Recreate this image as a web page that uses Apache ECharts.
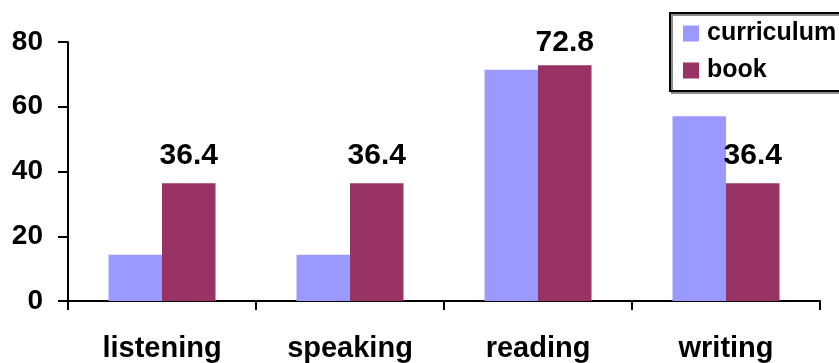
<!DOCTYPE html>
<html>
<head>
<meta charset="utf-8">
<script src="https://cdn.jsdelivr.net/npm/echarts@6/dist/echarts.min.js"></script>
<style>
  html, body { margin: 0; padding: 0; background: #ffffff; }
  #chart { width: 839px; height: 363px; }
</style>
</head>
<body>
<div id="chart"></div>
<script>
// Skills covered: curriculum vs. book (percent)
const categories = ['listening', 'speaking', 'reading', 'writing'];
const curriculum = [14.3, 14.3, 71.4, 57.1];
const book = [36.4, 36.4, 72.8, 36.4];
const yTicks = [0, 20, 40, 60, 80];

const FONT = '"Liberation Sans", Arial, Helvetica, sans-serif';
// gap between each book bar and its value label
const labelGap = [12, 12, 8, 12];

const chart = echarts.init(document.getElementById('chart'), null, { renderer: 'canvas' });

chart.setOption({
  animation: false,
  backgroundColor: '#ffffff',
  grid: { left: 68, right: 19, top: 42, bottom: 61.5, containLabel: false },
  legend: {
    orient: 'vertical',
    left: 670,
    top: 13,
    padding: [8, 60, 8, 13],
    itemGap: 12,
    itemWidth: 16,
    itemHeight: 16,
    borderColor: '#000000',
    borderWidth: 2,
    backgroundColor: '#ffffff',
    shadowColor: '#8c8c8c',
    shadowOffsetX: 2,
    shadowOffsetY: 2,
    shadowBlur: 0,
    icon: 'rect',
    textStyle: {
      fontFamily: FONT, fontWeight: 'bold', fontSize: 25, color: '#000000',
      lineHeight: 16, padding: [0, 0, 0, 3]
    },
    data: ['curriculum', 'book']
  },
  xAxis: {
    type: 'category',
    data: categories,
    axisLine: { lineStyle: { color: '#000000', width: 2 } },
    axisTick: { show: true, length: 9, lineStyle: { color: '#000000', width: 2 } },
    axisLabel: {
      margin: 33, color: '#000000', fontFamily: FONT, fontWeight: 'bold', fontSize: 29
    }
  },
  yAxis: {
    type: 'value',
    min: yTicks[0],
    max: yTicks[yTicks.length - 1],
    interval: yTicks[1] - yTicks[0],
    axisLine: { show: true, lineStyle: { color: '#000000', width: 2 } },
    axisTick: { show: true, length: 10, lineStyle: { color: '#000000', width: 2 } },
    splitLine: { show: false },
    axisLabel: {
      margin: 25, color: '#000000', fontFamily: FONT, fontWeight: 'bold', fontSize: 28
    }
  },
  series: [
    {
      name: 'curriculum',
      type: 'bar',
      data: curriculum,
      barWidth: 53.5,
      barGap: '0%',
      itemStyle: { color: '#9999FF' }
    },
    {
      name: 'book',
      type: 'bar',
      data: book.map((v, i) => ({ value: v, label: { distance: labelGap[i] } })),
      barWidth: 53.5,
      barGap: '0%',
      itemStyle: { color: '#993366' },
      label: {
        show: true,
        position: 'top',
        color: '#000000',
        fontFamily: FONT,
        fontWeight: 'bold',
        fontSize: 30
      }
    }
  ]
});
</script>
</body>
</html>
